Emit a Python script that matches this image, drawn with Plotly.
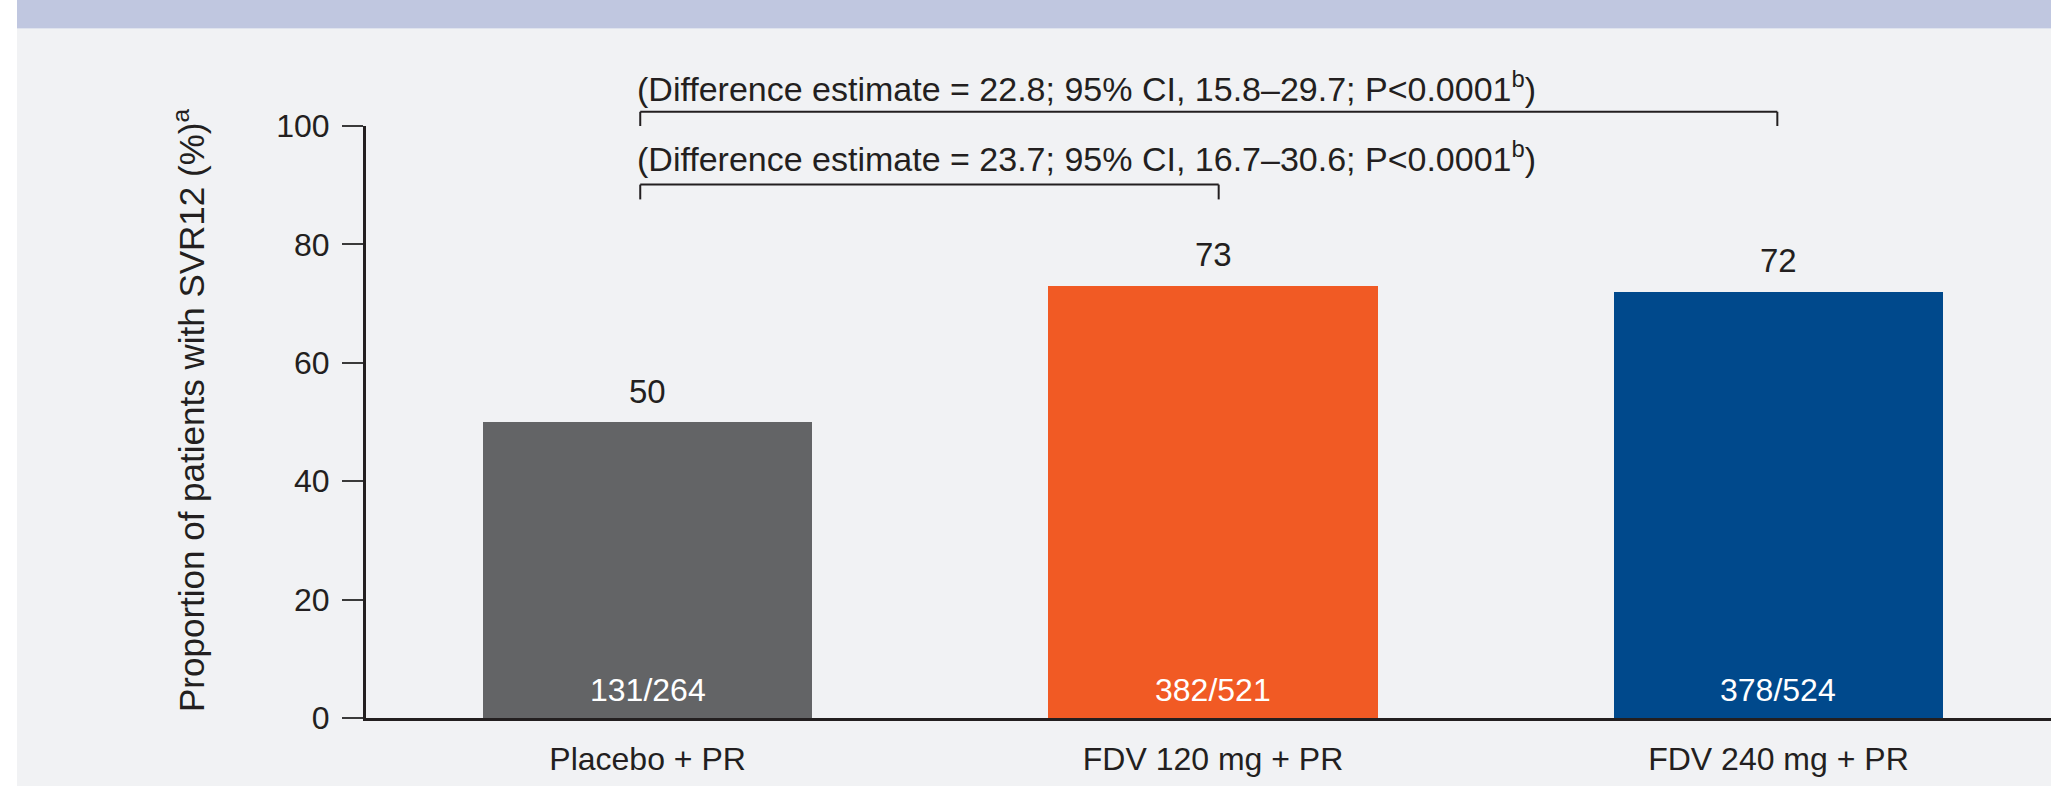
import plotly.graph_objects as go

categories = ["Placebo + PR", "FDV 120 mg + PR", "FDV 240 mg + PR"]
svr12_pct = [50, 73, 72]
responders = ["131/264", "382/521", "378/524"]
bar_colors = ["#636466", "#f15a24", "#00498c"]
y_ticks = [0, 20, 40, 60, 80, 100]
comparisons = [
    {"from": 0, "to": 2, "text": "(Difference estimate = 22.8; 95% CI, 15.8–29.7; P<0.0001<sup>b</sup>)"},
    {"from": 0, "to": 1, "text": "(Difference estimate = 23.7; 95% CI, 16.7–30.6; P<0.0001<sup>b</sup>)"},
]

FONT = "Liberation Sans, Arial, Helvetica, sans-serif"
INK = "#231f20"
W, H = 2051, 786
L, R, T, B = 366, 0, 126, 68
pw, ph = W - L - R, H - T - B
Y_MAX = 100.0

def px_x(p):
    return (p - L) / pw

def px_y(p):
    return (H - B - p) / ph

def val_y(v):
    return v / Y_MAX

fig = go.Figure()
fig.add_trace(go.Bar(
    x=list(range(len(categories))), y=svr12_pct,
    marker=dict(color=bar_colors, line=dict(width=0)),
    width=0.582, hoverinfo="skip", showlegend=False,
))

ann = []
for i, v in enumerate(svr12_pct):
    ann.append(dict(x=i, y=v, xref="x", yref="y", text=str(v), showarrow=False,
                    yanchor="middle", yshift=31,
                    font=dict(family=FONT, size=33, color=INK)))
    ann.append(dict(x=i, y=0, xref="x", yref="y", text=responders[i], showarrow=False,
                    yanchor="middle", yshift=28,
                    font=dict(family=FONT, size=32, color="white")))

shapes = []
shapes.append(dict(type="rect", xref="paper", yref="paper", x0=px_x(0), x1=px_x(W), y0=px_y(H), y1=px_y(0),
                   fillcolor="#f1f2f4", line=dict(width=0), layer="below"))
shapes.append(dict(type="rect", xref="paper", yref="paper", x0=px_x(0), x1=px_x(17), y0=px_y(H), y1=px_y(0),
                   fillcolor="white", line=dict(width=0), layer="below"))
shapes.append(dict(type="rect", xref="paper", yref="paper", x0=px_x(17), x1=px_x(W), y0=px_y(28), y1=px_y(0),
                   fillcolor="#c0c7e0", line=dict(width=0), layer="below"))
shapes.append(dict(type="line", xref="paper", yref="paper", x0=px_x(17), x1=px_x(W), y0=px_y(28.5), y1=px_y(28.5),
                   line=dict(color="#dfe3ee", width=1), layer="below"))

bracket_levels = [(102.4, 100.0, 106.6), (90.1, 87.6, 94.8)]
for comp, (ytop, ybot, ytext) in zip(comparisons, bracket_levels):
    x0 = comp["from"] - 0.013
    x1 = comp["to"] + (0.01 if comp["to"] == 1 else -0.002)
    for seg in [(x0, ybot, x0, ytop), (x0, ytop, x1, ytop), (x1, ytop, x1, ybot)]:
        shapes.append(dict(type="line", xref="x", yref="paper",
                           x0=seg[0], y0=val_y(seg[1]), x1=seg[2], y1=val_y(seg[3]),
                           line=dict(color=INK, width=2)))
    ann.append(dict(x=x0, y=val_y(ytext), xref="x", yref="paper", text=comp["text"], showarrow=False,
                    xanchor="left", yanchor="middle", xshift=-5,
                    font=dict(family=FONT, size=34, color=INK)))

ann.append(dict(x=px_x(189), y=px_y(411), xref="paper", yref="paper",
                text="Proportion of patients with SVR12 (%)<sup>a</sup>", textangle=-90,
                showarrow=False, xanchor="center", yanchor="middle",
                font=dict(family=FONT, size=35, color=INK)))

fig.update_layout(
    width=W, height=H,
    margin=dict(l=L, r=R, t=T, b=B, pad=0),
    paper_bgcolor="#f1f2f4", plot_bgcolor="rgba(0,0,0,0)",
    annotations=ann, shapes=shapes, bargap=0,
    font=dict(family=FONT, color=INK),
)
fig.update_xaxes(
    range=[-0.498, 2.482], tickvals=list(range(len(categories))), ticktext=categories,
    showline=True, linecolor=INK, linewidth=3, showgrid=False, zeroline=False,
    ticks="", tickfont=dict(family=FONT, size=32, color=INK), ticklabelstandoff=11,
)
fig.update_yaxes(
    range=[0, Y_MAX], tickvals=y_ticks, showline=True, linecolor=INK, linewidth=3,
    showgrid=False, zeroline=False, ticks="outside", ticklen=21, tickwidth=2, tickcolor="#3a3a3a",
    tickfont=dict(family=FONT, size=32, color=INK), ticklabelstandoff=6,
)

fig.write_html("out.html", config={"displayModeBar": False},
               post_script="document.body.style.margin='0';document.body.style.overflow='hidden';")
